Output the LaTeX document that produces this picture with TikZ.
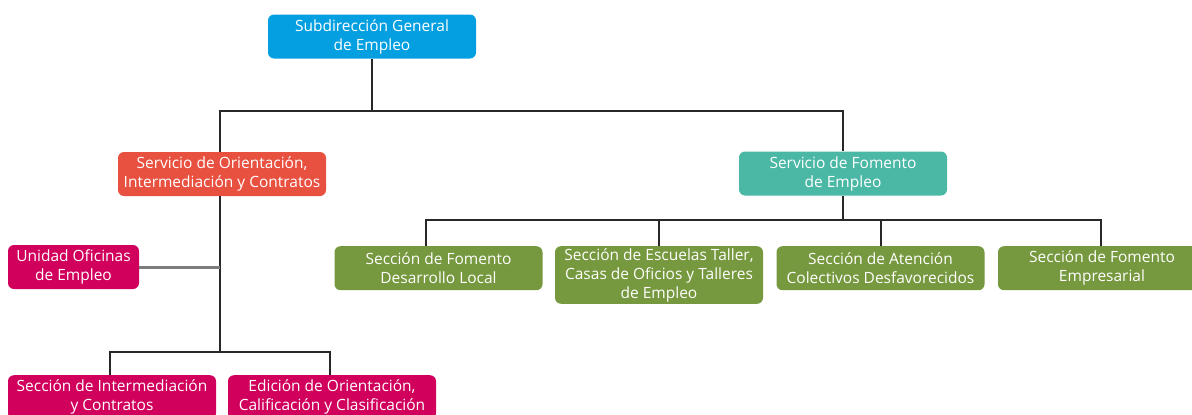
\documentclass[tikz,border=0pt]{standalone}
\usepackage{fontspec}
\setmainfont{Open Sans}
\definecolor{sgBlue}{RGB}{4,159,224}
\definecolor{sgRed}{RGB}{232,80,64}
\definecolor{sgTeal}{RGB}{74,184,165}
\definecolor{sgPink}{RGB}{208,0,92}
\definecolor{sgGreen}{RGB}{118,152,62}
\definecolor{sgLine}{RGB}{40,40,40}
\definecolor{sgGray}{RGB}{125,125,125}
\begin{document}
\begin{tikzpicture}[x=1pt,y=1pt]
    \tikzstyle{every node}+=[inner sep=2pt]
    \tikzstyle{unit}=[rounded corners=6pt, text=white, align=center,
        minimum width=208pt, minimum height=44pt,
        font=\fontsize{15.5}{19}\selectfont]
    \tikzstyle{link}=[sgLine, line width=2pt]
    \useasboundingbox (0,0) rectangle (1192,-415);
    % top
    \node [unit, fill=sgBlue] (sub) at (372,-36.5) {Subdirección General\\de Empleo};
    % services
    \node [unit, fill=sgRed] (orient) at (222,-174) {Servicio de Orientación,\\Intermediación y Contratos};
    \node [unit, fill=sgTeal] (foment) at (843,-173.5) {Servicio de Fomento\\de Empleo};
    % green sections
    \node [unit, fill=sgGreen, anchor=north] (local) at (438.5,-246) {Sección de Fomento\\Desarrollo Local};
    \node [unit, fill=sgGreen, anchor=north] (escuelas) at (659,-246) {Sección de Escuelas Taller,\\Casas de Oficios y Talleres\\de Empleo};
    \node [unit, fill=sgGreen, anchor=north] (atencion) at (880.5,-246) {Sección de Atención\\Colectivos Desfavorecidos};
    \node [unit, fill=sgGreen, anchor=north] (empresa) at (1102,-246) {Sección de Fomento\\Empresarial};
    % pink units
    \node [unit, fill=sgPink, minimum width=131pt] (oficinas) at (73.5,-267) {Unidad Oficinas\\de Empleo};
    \node [unit, fill=sgPink, anchor=north] (intermed) at (112,-375) {Sección de Intermediación\\y Contratos};
    \node [unit, fill=sgPink, anchor=north] (califica) at (332,-375) {Edición de Orientación,\\Calificación y Clasificación};
    % buses
    \coordinate (busA) at (372,-111);
    \coordinate (busB) at (843,-220);
    \coordinate (busC) at (220,-352);
    \coordinate (joint) at (220,-267);
    % connectors
    \draw [link] (sub.south) -- (busA);
    \draw [link] (orient.north -| busC) |- (busA) -| (foment.north);
    \draw [link] (foment.south) -- (busB);
    \draw [link] ([xshift=-13pt]local.north) |- (busB) -| ([xshift=-1pt]empresa.north);
    \draw [link] (escuelas.north) -- (escuelas.north |- busB);
    \draw [link] (atencion.north) -- (atencion.north |- busB);
    \draw [link] (orient.south -| busC) -- (busC);
    \draw [sgGray, line width=3pt] (oficinas.east) -- (joint);
    \draw [link] ([xshift=-2pt]intermed.north) |- (busC) -| ([xshift=-2pt]califica.north);
\end{tikzpicture}
\end{document}
